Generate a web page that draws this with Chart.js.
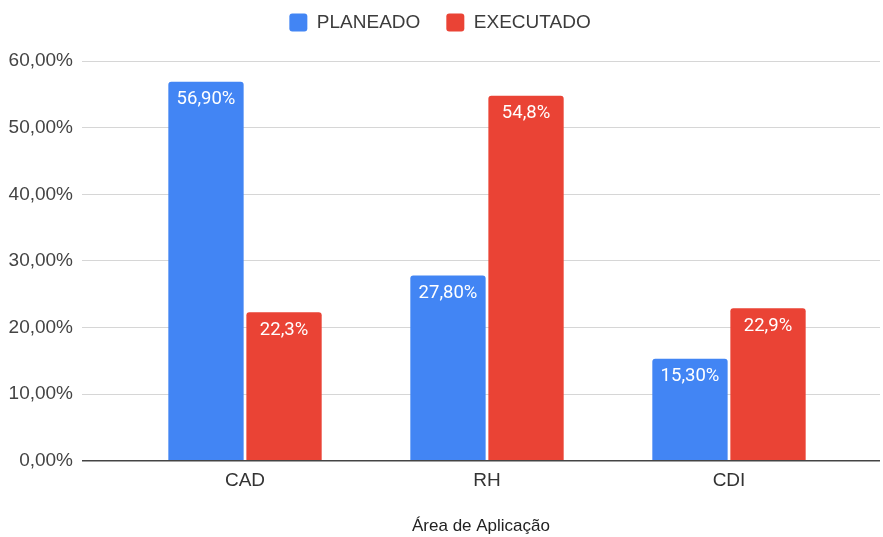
<!DOCTYPE html>
<html>
<head>
<meta charset="utf-8">
<script src="https://cdn.jsdelivr.net/npm/chart.js@4/dist/chart.umd.min.js"></script>
<style>
    html, body { margin: 0; padding: 0; background: #fff; }
    #wrap { width: 883px; height: 537px; position: relative; }
</style>
</head>
<body>
<div id="wrap"><canvas id="areaChart"></canvas></div>
<script>
    "use strict";

    // Chart data
    var categories = ["CAD", "RH", "CDI"];
    var planeado = [56.9, 27.8, 15.3];
    var executado = [22.3, 54.8, 22.9];
    var seriesNames = ["PLANEADO", "EXECUTADO"];
    var labelDecimals = [2, 1];
    var yTicks = [0, 10, 20, 30, 40, 50, 60];

    function pct(v, d) {
        return v.toFixed(d).replace('.', ',') + '%';
    }

    // Value labels inside the top of each bar
    var barLabels = {
        id: 'barLabels',
        afterDatasetsDraw: function (chart) {
            var ctx = chart.ctx;
            ctx.save();
            ctx.font = '18.5px Roboto, "Liberation Sans", sans-serif';
            ctx.fillStyle = '#ffffff';
            ctx.textAlign = 'center';
            ctx.textBaseline = 'middle';
            chart.data.datasets.forEach(function (ds, di) {
                var meta = chart.getDatasetMeta(di);
                meta.data.forEach(function (bar, i) {
                    ctx.fillText(pct(ds.data[i].y, labelDecimals[di]), bar.x, bar.y + 18);
                });
            });
            ctx.restore();
        }
    };

    // Extra space under the legend
    var legendGap = {
        id: 'legendGap',
        beforeInit: function (chart) {
            var fit = chart.legend.fit;
            chart.legend.fit = function () {
                fit.bind(chart.legend)();
                this.height += 19;
            };
        }
    };

    var ctx1 = document.getElementById('areaChart').getContext('2d');
    var myChart1 = new Chart(ctx1, {
        type: 'bar',
        data: {
            datasets: [{
                    label: seriesNames[0],
                    data: planeado.map(function (v, i) { return {x: i, y: v}; }),
                    backgroundColor: '#4285F4',
                    borderRadius: 3,
                    borderSkipped: 'bottom'
                },
                {
                    label: seriesNames[1],
                    data: executado.map(function (v, i) { return {x: i, y: v}; }),
                    backgroundColor: '#EA4335',
                    borderRadius: 3,
                    borderSkipped: 'bottom'
                }
            ]
        },
        options: {
            responsive: true,
            maintainAspectRatio: false,
            animation: false,
            categoryPercentage: 0.645,
            barPercentage: 0.965,
            layout: {
                padding: {left: 0, right: 3, top: -13, bottom: 0}
            },
            plugins: {
                tooltip: {enabled: false},
                legend: {
                    position: 'top',
                    labels: {
                        boxWidth: 18,
                        boxHeight: 18,
                        useBorderRadius: true,
                        borderRadius: 3,
                        padding: 26,
                        color: '#3c3c3c',
                        font: {family: '"Liberation Sans", Arial, sans-serif', size: 19}
                    }
                }
            },
            scales: {
                x: {
                    type: 'linear',
                    offset: false,
                    bounds: 'data',
                    min: -0.6736,
                    max: 2.624,
                    afterBuildTicks: function (s) {
                        s.ticks = categories.map(function (c, i) { return {value: i}; });
                    },
                    grid: {display: false, drawTicks: false, offset: false},
                    border: {display: false},
                    ticks: {
                        autoSkip: false,
                        maxRotation: 0,
                        padding: 9,
                        color: '#333',
                        font: {family: '"Liberation Sans", Arial, sans-serif', size: 19},
                        callback: function (v) { return categories[v]; }
                    },
                    title: {
                        display: true,
                        text: 'Área de Aplicação',
                        color: '#222',
                        padding: {top: 15, bottom: 0},
                        font: {family: '"Liberation Sans", Arial, sans-serif', size: 17}
                    }
                },
                y: {
                    min: 0,
                    max: 60,
                    afterBuildTicks: function (s) {
                        s.ticks = yTicks.map(function (v) { return {value: v}; });
                    },
                    afterFit: function (s) { s.width = 82; },
                    border: {display: false},
                    grid: {
                        drawTicks: false,
                        color: function (c) { return c.tick && c.tick.value === 0 ? '#444' : '#d6d6d6'; },
                        lineWidth: function (c) { return c.tick && c.tick.value === 0 ? 1.5 : 1; }
                    },
                    ticks: {
                        padding: 9,
                        color: '#444',
                        font: {family: '"Liberation Sans", Arial, sans-serif', size: 19},
                        callback: function (v) { return pct(v, 2); }
                    }
                }
            }
        },
        plugins: [barLabels, legendGap]
    });
</script>
</body>
</html>
